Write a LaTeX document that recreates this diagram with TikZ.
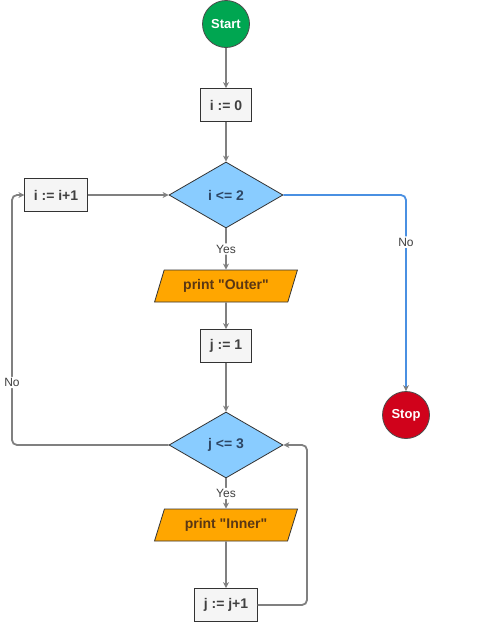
\documentclass[tikz,border=0pt]{standalone}
\usepackage{fontspec}
\setmainfont{Liberation Sans}
\newfontfamily\rawfont{Liberation Sans}
\usetikzlibrary{shapes.geometric,arrows.meta,positioning}
\definecolor{lineg}{RGB}{128,128,128}
\definecolor{startg}{RGB}{0,166,81}
\definecolor{stopr}{RGB}{208,2,27}
\definecolor{condb}{RGB}{137,204,255}
\definecolor{ioor}{RGB}{255,166,0}
\definecolor{boxf}{RGB}{245,245,245}
\definecolor{bluel}{RGB}{74,144,226}
\newcommand{\dq}{{\rawfont"}}
\tikzset{
  term/.style={circle, draw=black!70, line width=0.8pt, minimum size=47pt, inner sep=0pt,
    text=white, font=\bfseries\fontsize{13}{15}\selectfont},
  procbox/.style={rectangle, draw=black!80, line width=0.8pt, fill=boxf, minimum height=33pt,
    inner xsep=9pt, text=black!75, font=\bfseries\fontsize{14}{16}\selectfont},
  decbox/.style={diamond, draw=black!80, line width=0.8pt, fill=condb, aspect=1.73,
    minimum width=114pt, minimum height=66pt, inner sep=0pt, text={rgb,255:red,45;green,70;blue,100},
    font=\bfseries\fontsize{14}{16}\selectfont},
  iobox/.style={trapezium, trapezium left angle=70, trapezium right angle=110,
    trapezium stretches=true, draw=black!80, line width=0.8pt, fill=ioor,
    minimum width=143pt, minimum height=32pt, text={rgb,255:red,90;green,55;blue,20},
    font=\bfseries\fontsize{14}{16}\selectfont},
  conn/.style={draw=lineg, line width=1.8pt, rounded corners=5pt, -{Stealth[length=6pt,width=6pt,color=lineg]}},
  lbl/.style={fill=white, inner sep=1.5pt, text=black!75, font=\fontsize{12}{14}\selectfont},
}
\begin{document}
\begin{tikzpicture}[x=1pt, y=-1pt]
  \useasboundingbox[fill=white] (0,0) rectangle (500,624);

  % Nodi principali
  \node[term, fill=startg] (start) at (226,24) {Start};
  \node[procbox] (initi) at (226,105) {i := 0};
  \node[decbox] (condi) at (226,195) {i <= 2};
  \node[procbox] (incri) at (56,195) {i := i+1};
  \node[iobox] (outer) at (226,286) {print \dq Outer\dq};
  \node[procbox] (initj) at (226,346) {j := 1};
  \node[decbox] (condj) at (226,445) {j <= 3};
  \node[iobox] (inner) at (226,525) {print \dq Inner\dq};
  \node[procbox] (incrj) at (226,605) {j := j+1};
  \node[term, fill=stopr] (stop) at (406,415) {Stop};

  % Collegamenti verticali
  \draw[conn] (start) -- (initi);
  \draw[conn] (initi) -- (condi);
  \draw[conn] (condi) -- node[lbl] {Yes} (outer);
  \draw[conn] (outer) -- (initj);
  \draw[conn] (initj) -- (condj);
  \draw[conn] (condj) -- node[lbl] {Yes} (inner);
  \draw[conn] (inner) -- (incrj);

  % Cicli
  \draw[conn] (incri) -- (condi);
  \draw[conn] (incrj.east) -| (307,445) -- (condj.east);
  \draw[conn] (condj.west) -| node[lbl, pos=0.625] {No} (12,195) -- (incri.west);
  \draw[conn, draw=bluel] (condi.east) -| node[lbl, pos=0.62] {No} (stop.north);
\end{tikzpicture}
\end{document}
